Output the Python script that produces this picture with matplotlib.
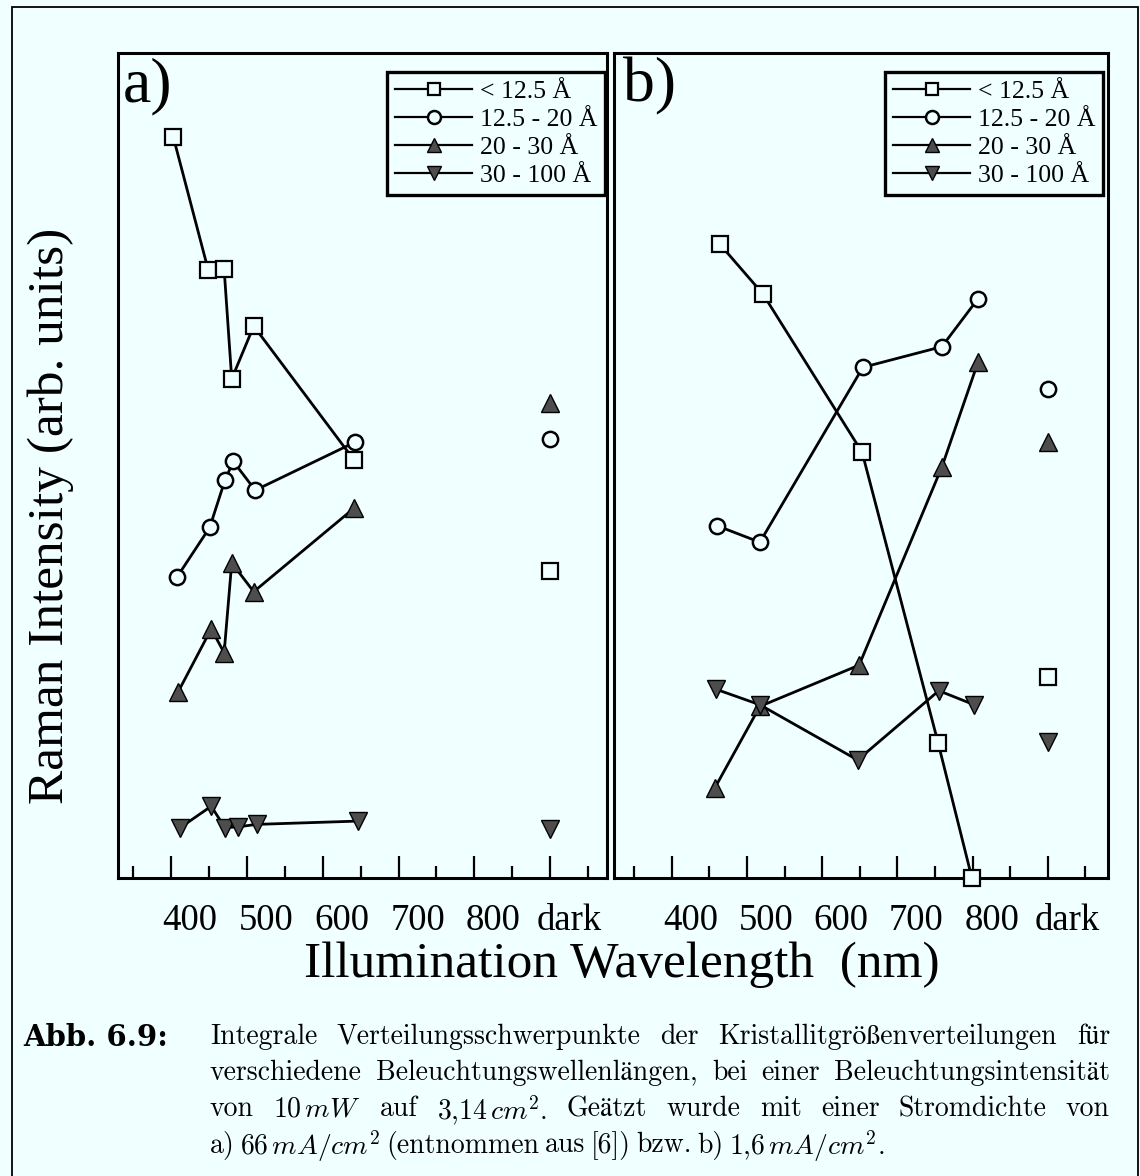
import matplotlib
matplotlib.use('Agg')
import matplotlib.pyplot as plt
from matplotlib.transforms import ScaledTranslation
from matplotlib.patches import Rectangle

plt.rcParams['mathtext.fontset'] = 'cm'
SERIF = ['Liberation Serif', 'DejaVu Serif']

BG = '#F0FFFF'

# ---------------- data ----------------
tick_values = [400, 500, 600, 700, 800, 900]
tick_labels = ['400', '500', '600', '700', '800', 'dark']
minor_values = [350, 450, 550, 650, 750, 850, 950]
series_labels = ['< 12.5 Å', '12.5 - 20 Å', '20 - 30 Å', '30 - 100 Å']
DARK = 900

# panel a)
a_sq_x = [403, 449, 470, 480, 509, 641]
a_sq_y = [89.8, 73.7, 73.8, 60.5, 66.9, 50.7]
a_ci_x = [408, 451, 471, 482, 511, 642]
a_ci_y = [36.5, 42.5, 48.2, 50.5, 47.0, 52.8]
a_tu_x = [409, 453, 470, 480, 509, 641]
a_tu_y = [22.5, 30.2, 27.3, 38.2, 34.7, 44.8]
a_td_x = [412, 453, 471, 488, 513, 647]
a_td_y = [6.1, 8.7, 6.1, 6.2, 6.5, 6.9]
a_dark = [37.2, 53.2, 57.6, 5.9]

# panel b)
b_sq_x = [464, 521, 653, 754, 799]
b_sq_y = [76.8, 70.8, 51.6, 16.4, 0.0]
b_ci_x = [460, 517, 654, 759, 807]
b_ci_y = [42.7, 40.7, 61.9, 64.4, 70.2]
b_tu_x = [457, 517, 649, 759, 807]
b_tu_y = [10.9, 20.8, 25.8, 49.8, 62.5]
b_td_x = [458, 517, 647, 755, 802]
b_td_y = [22.9, 21.0, 14.3, 22.7, 21.0]
b_dark = [24.4, 59.3, 52.8, 16.5]

caption_head = 'Abb. 6.9:'
caption_lines = [
    'Integrale Verteilungsschwerpunkte der Kristallitgrößenverteilungen für',
    'verschiedene Beleuchtungswellenlängen, bei einer Beleuchtungsintensität',
    'von 10$\\,mW$ auf 3,14$\\,cm^2$. Geätzt wurde mit einer Stromdichte von',
    'a) 66$\\,mA/cm^2$ (entnommen aus [6]) bzw. b) 1,6$\\,mA/cm^2$.',
]

# ---------------- styles ----------------
TRI_FILL = '#4d4d4d'
styles = [
    dict(marker='s', ms=11, mfc=BG, mec='black', mew=1.6),
    dict(marker='o', ms=11, mfc=BG, mec='black', mew=1.8),
    dict(marker='^', ms=12.5, mfc=TRI_FILL, mec='black', mew=1.0),
    dict(marker='v', ms=12.5, mfc=TRI_FILL, mec='black', mew=1.0),
]

W, H = 1140, 1176
fig = plt.figure(figsize=(W / 100, H / 100), dpi=100)
fig.patch.set_facecolor(BG)


def fx(px):
    return px / W


def fy(py):
    return 1 - py / H


ax_a = fig.add_axes([fx(118), fy(878), fx(607) - fx(118), fy(53) - fy(878)])
ax_b = fig.add_axes([fx(614), fy(878), fx(1108) - fx(614), fy(53) - fy(878)])


def draw_panel(ax, xs, ys, dark, xlim, tag, tag_x, leg_x1):
    ax.set_facecolor(BG)
    handles = []
    for x, y, d, st, lab in zip(xs, ys, dark, styles, series_labels):
        h, = ax.plot(x, y, color='black', lw=2.0, clip_on=False, zorder=3,
                     label=lab, **st)
        ax.plot([DARK], [d], linestyle='none', clip_on=False, zorder=3, **st)
        handles.append(h)
    ax.set_xlim(*xlim)
    ax.set_ylim(0, 100)
    ax.set_yticks([])
    ax.set_xticks(tick_values)
    ax.set_xticklabels(tick_labels, fontsize=26.5, family=SERIF)
    ax.set_xticks(minor_values, minor=True)
    ax.tick_params(axis='x', which='major', direction='in', length=16,
                   width=1.6, pad=18, top=False)
    ax.tick_params(axis='x', which='minor', direction='in', length=8.5,
                   width=1.6, top=False)
    offset = ScaledTranslation(19 / 100, 0, fig.dpi_scale_trans)
    for lab in ax.get_xticklabels():
        lab.set_transform(lab.get_transform() + offset)
    for sp in ax.spines.values():
        sp.set_linewidth(2.2)
    ax.text(tag_x, 0.995, tag, transform=ax.transAxes,
            ha='left', va='top', fontsize=46, family=SERIF)
    leg = ax.legend(handles=handles, loc='upper right',
                    bbox_to_anchor=(leg_x1, 0.977), borderaxespad=0,
                    prop=dict(family=SERIF, size=18.5), numpoints=1,
                    markerscale=0.85,
                    handlelength=3.0, handletextpad=0.3, labelspacing=0.2,
                    borderpad=0.3, fancybox=False, framealpha=1,
                    facecolor=BG, edgecolor='black')
    leg.get_frame().set_linewidth(2.4)
    for lh in leg.legend_handles:
        lh.set_linewidth(1.6)


draw_panel(ax_a, [a_sq_x, a_ci_x, a_tu_x, a_td_x], [a_sq_y, a_ci_y, a_tu_y, a_td_y],
           a_dark, (330, 975), 'a)', 0.010, 0.996)
draw_panel(ax_b, [b_sq_x, b_ci_x, b_tu_x, b_td_x], [b_sq_y, b_ci_y, b_tu_y, b_td_y],
           b_dark, (323, 980), 'b)', 0.018, 0.990)

# axis titles
fig.text(fx(51), fy(516), 'Raman Intensity (arb. units)', rotation=90,
         ha='center', va='center', fontsize=37, family=SERIF)
fig.text(fx(622), fy(965), 'Illumination Wavelength  (nm)',
         ha='center', va='center', fontsize=37, family=SERIF)

# outer frame
fig.add_artist(Rectangle((fx(12), -0.01), fx(1138) - fx(12), fy(7) + 0.01,
                         transform=fig.transFigure, fill=False, lw=1.3,
                         edgecolor='black'))

# caption
CAP_FONT = ['cmr10', 'STIXGeneral']
CAP_SIZE = 20
x_start, x_end = 210, 1110
line_y = [1034, 1070, 1106, 1142]

fig.text(fx(23), fy(line_y[0]), caption_head, ha='left',
         va='center_baseline', fontsize=21, family='DejaVu Serif',
         fontweight='bold')
fig.canvas.draw()
renderer = fig.canvas.get_renderer()

for i, (line, yy) in enumerate(zip(caption_lines, line_y)):
    words = line.split(' ')
    texts = [fig.text(0, fy(yy), w, ha='left', va='center_baseline',
                      fontsize=CAP_SIZE, family=CAP_FONT) for w in words]
    widths = [t.get_window_extent(renderer).width for t in texts]
    if i < len(caption_lines) - 1:
        gap = (x_end - x_start - sum(widths)) / (len(words) - 1)
    else:
        gap = CAP_SIZE * 0.28
    x = x_start
    for t, w in zip(texts, widths):
        t.set_x(fx(x))
        x += w + gap

fig.savefig('out.png', dpi=100, facecolor=BG)
